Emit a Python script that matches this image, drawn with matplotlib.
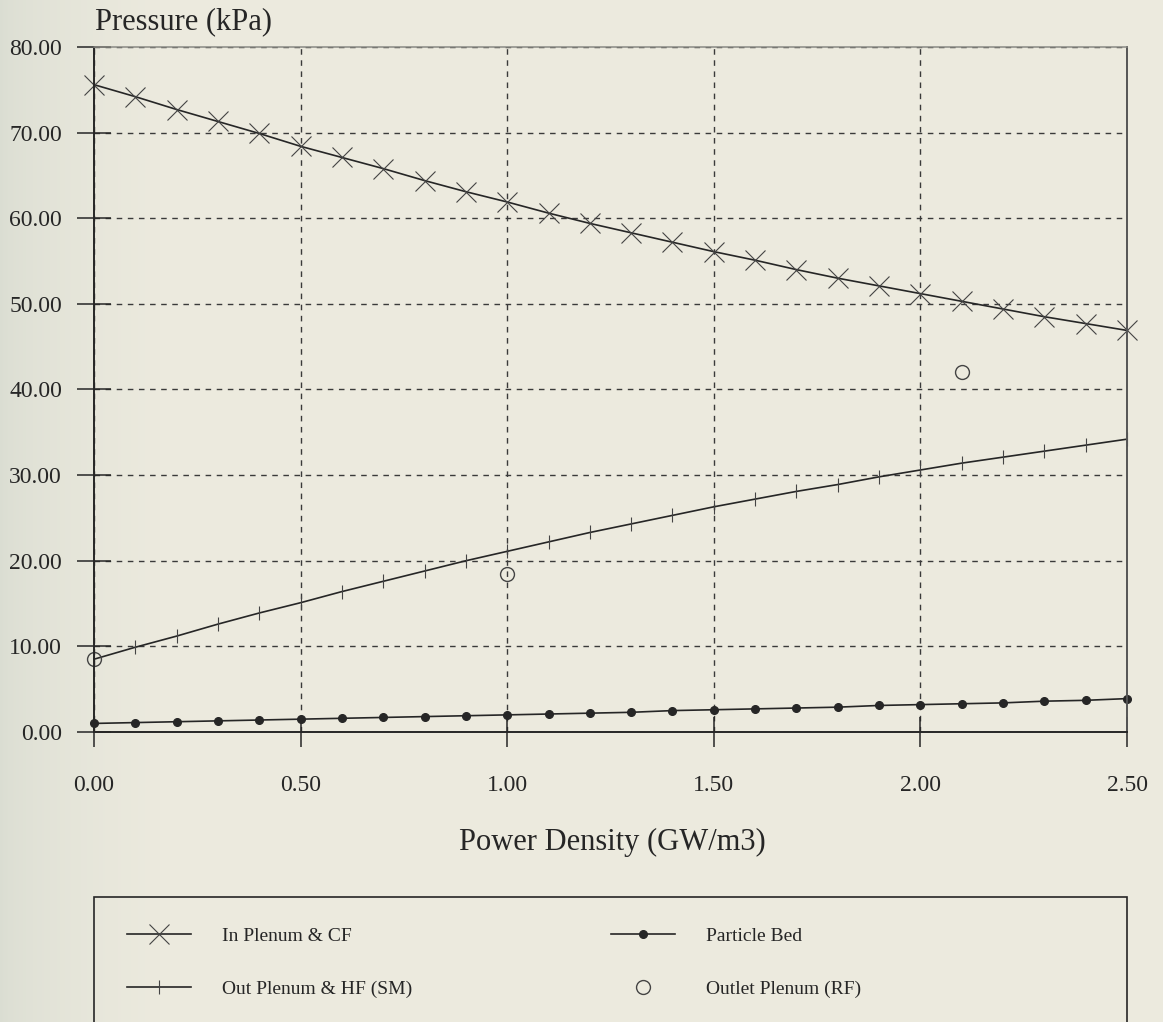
import matplotlib
matplotlib.use("Agg")
import matplotlib.pyplot as plt
import numpy as np
from matplotlib.patches import Rectangle

# power density steps (GW/m3)
power = [0.0, 0.1, 0.2, 0.3, 0.4, 0.5, 0.6, 0.7, 0.8, 0.9, 1.0, 1.1, 1.2,
         1.3, 1.4, 1.5, 1.6, 1.7, 1.8, 1.9, 2.0, 2.1, 2.2, 2.3, 2.4, 2.5]

# pressure drops (kPa)
in_plenum = [75.6, 74.2, 72.7, 71.3, 69.9, 68.4, 67.1, 65.8, 64.4, 63.1,
             61.9, 60.6, 59.4, 58.3, 57.2, 56.1, 55.1, 54.0, 53.0, 52.1,
             51.2, 50.3, 49.4, 48.5, 47.7, 46.9]
out_plenum = [8.5, 9.9, 11.2, 12.6, 13.9, 15.1, 16.4, 17.6, 18.8, 20.0,
              21.1, 22.2, 23.3, 24.3, 25.3, 26.3, 27.2, 28.1, 28.9, 29.8,
              30.6, 31.4, 32.1, 32.8, 33.5, 34.2]
particle_bed = [1.0, 1.1, 1.2, 1.3, 1.4, 1.5, 1.6, 1.7, 1.8, 1.9,
                2.0, 2.1, 2.2, 2.3, 2.5, 2.6, 2.7, 2.8, 2.9, 3.1,
                3.2, 3.3, 3.4, 3.6, 3.7, 3.9]

# outlet plenum measurements
outlet_x = [0.0, 1.0, 2.1]
outlet_y = [8.5, 18.5, 42.0]

xticks = [0.0, 0.5, 1.0, 1.5, 2.0, 2.5]
yticks = [0, 10, 20, 30, 40, 50, 60, 70, 80]

bg = "#ECEADE"
ink = "#262626"
W, H = 1163, 1022

plt.rcParams["font.family"] = ["Liberation Serif", "DejaVu Serif"]

fig = plt.figure(figsize=(W / 100, H / 100), dpi=100, facecolor=bg)

# slightly greyer paper towards the left edge
bgax = fig.add_axes([0, 0, 1, 1], zorder=-10)
shade = np.linspace(0, 1, 256) ** 0.6
left_rgb = np.array([218, 221, 210]) / 255
paper_rgb = np.array([236, 234, 222]) / 255
grad = left_rgb[None, :] * (1 - shade[:, None]) + paper_rgb[None, :] * shade[:, None]
bgax.imshow(grad[None, :, :], extent=[0, 160 / W, 0, 1], aspect="auto")
bgax.set_xlim(0, 1)
bgax.set_ylim(0, 1)
bgax.axis("off")

ax = fig.add_axes([94 / W, 1 - 732 / H, (1127 - 94) / W, (732 - 47) / H])
ax.set_facecolor("none")

l1, = ax.plot(power, in_plenum, color=ink, lw=1.2, marker="x", ms=14,
              mew=0.8, mec="#444444", label="In Plenum & CF", clip_on=False)
l2, = ax.plot(power, out_plenum, color=ink, lw=1.2, marker="|", ms=10,
              mew=0.8, mec="#444444", label="Out Plenum & HF (SM)", clip_on=False)
l3, = ax.plot(power, particle_bed, color=ink, lw=1.2, marker="o", ms=5.5,
              mfc=ink, mec=ink, label="Particle Bed", clip_on=False)
l4, = ax.plot(outlet_x, outlet_y, ls="none", marker="o", ms=10, mfc="none",
              mec="#444444", mew=1.0, label="Outlet Plenum (RF)", clip_on=False)

ax.set_xlim(0, 2.5)
ax.set_ylim(0, 80)
ax.set_xticks(xticks)
ax.set_yticks(yticks)
ax.set_xticklabels([f"{v:.2f}" for v in xticks])
ax.set_yticklabels([f"{v:.2f}" for v in yticks])
ax.tick_params(axis="x", direction="inout", length=22, width=1.1,
               pad=20, labelsize=17, colors=ink)
ax.tick_params(axis="y", direction="inout", length=24, width=1.1,
               pad=11, labelsize=17, colors=ink)
for s in ax.spines.values():
    s.set_linewidth(1.4)
    s.set_color(ink)
ax.spines["top"].set_color("#8a8a84")
ax.spines["top"].set_linewidth(1.1)
ax.spines["right"].set_color("#555555")

ax.grid(True, color="#3a3a3a", lw=1.0, linestyle=(0, (4, 4)))

ax.set_xlabel("Power Density (GW/m3)", fontsize=22, color=ink, va="center")
ax.xaxis.set_label_coords((612 - 94) / (1127 - 94), (732 - 842) / (732 - 47))
fig.text(95 / W, 1 - 22 / H, "Pressure (kPa)", fontsize=22, color=ink,
         ha="left", va="center")

# legend box, open at the bottom edge of the page
fig.patches.append(Rectangle((94 / W, -0.05), (1127 - 94) / W,
                             1 - 897 / H + 0.05, transform=fig.transFigure,
                             fill=False, ec=ink, lw=1.2))


def make_legend(handles, x_px):
    return fig.legend(handles=handles, loc="upper left",
                      bbox_to_anchor=(x_px / W, 1 - 927 / H),
                      frameon=False, fontsize=14, handlelength=3.3,
                      handletextpad=1.6, labelspacing=1.85, borderpad=0,
                      borderaxespad=0, labelcolor=ink)


leg1 = make_legend([l1, l2], 127)
leg2 = make_legend([l3, l4], 611)

fig.savefig("out.png", dpi=100, facecolor=bg)
